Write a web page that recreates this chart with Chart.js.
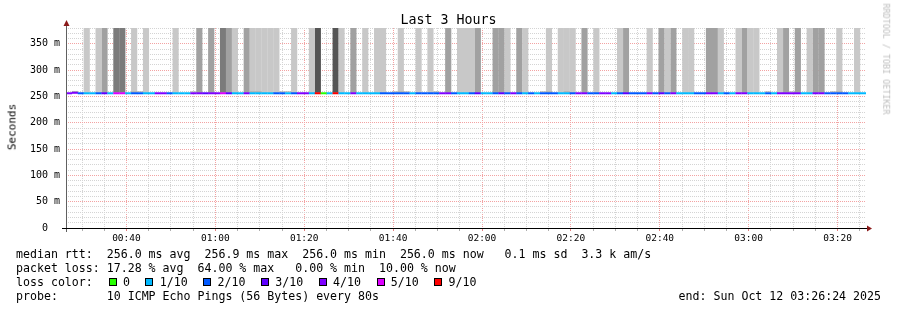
<!DOCTYPE html>
<html>
<head>
<meta charset="utf-8">
<script src="https://cdn.jsdelivr.net/npm/chart.js@4.4.1/dist/chart.umd.min.js"></script>
<style>
  html, body { margin: 0; padding: 0; background: #fff; }
  #wrap { position: relative; width: 897px; height: 310px; overflow: hidden;
          font-family: "DejaVu Sans Mono", monospace; color: #000; }
  #c { position: absolute; left: 0; top: 0; }
  .t { position: absolute; white-space: pre; line-height: 1; }
  .leg { font-size: 11.6px; left: 16px; }
  .box { position: absolute; width: 6px; height: 6px; border: 1px solid #000; }
</style>
</head>
<body>
<div id="wrap">
  <canvas id="c" width="897" height="310"></canvas>
  <div class="t" style="left:0;width:897px;text-align:center;top:13.4px;font-size:13.3px">Last 3 Hours</div>
  <div class="t" style="left:12px;top:127px;font-size:11px;transform:translate(-50%,-50%) rotate(-90deg)">Seconds</div>
  <div class="t" style="left:886px;top:59px;font-size:8.4px;color:#bdbdbd;transform:translate(-50%,-50%) rotate(90deg)">RRDTOOL / TOBI OETIKER</div>

  <div class="t leg" style="top:248.5px">median rtt:  256.0 ms avg  256.9 ms max  256.0 ms min  256.0 ms now   0.1 ms sd  3.3 k am/s</div>
  <div class="t leg" style="top:262.6px">packet loss: 17.28 % avg  64.00 % max   0.00 % min  10.00 % now</div>
  <div class="t leg" style="top:276.7px">loss color:</div>
  <div class="t leg" style="top:290.8px">probe:       10 ICMP Echo Pings (56 Bytes) every 80s</div>
  <div class="t leg" style="top:290.8px;left:auto;right:16px">end: Sun Oct 12 03:26:24 2025</div>
  <div id="lossLegend"></div>
</div>

<script>
// time range of the graph (3 hours, one step every 80 s)
const startTime = '00:26:24';
const spanMinutes = 180;
const timeLabels = ['00:40', '01:00', '01:20', '01:40', '02:00', '02:20', '02:40', '03:00', '03:20'];

// y axis (ms)
const yMax = 380;
const yGridStep = 10;
const yLabelStep = 50;

// median rtt per step (ms)
const medianRtt = [
  256.0, 256.9, 256.0, 256.0, 256.0, 256.0, 256.0, 256.0, 256.0, 256.0,
  256.0, 256.0, 256.0, 256.0, 256.0, 256.0, 256.0, 256.0, 256.0, 256.0,
  256.0, 256.0, 256.0, 256.0, 256.0, 256.0, 256.0, 256.0, 256.0, 256.0,
  256.0, 256.0, 256.0, 256.0, 256.0, 256.0, 256.0, 256.0, 256.0, 256.0,
  256.0, 256.0, 256.0, 256.0, 256.0, 256.0, 256.0, 256.0, 256.0, 256.0,
  256.0, 256.0, 256.0, 256.0, 256.0, 256.0, 256.0, 256.0, 256.0, 256.0,
  256.0, 256.0, 256.0, 256.0, 256.0, 256.0, 256.0, 256.0, 256.0, 256.0,
  256.0, 256.0, 256.0, 256.0, 256.0, 256.0, 256.0, 256.0, 256.0, 256.0,
  256.0, 256.0, 256.0, 256.0, 256.0, 256.0, 256.0, 256.0, 256.0, 256.0,
  256.0, 256.0, 256.0, 256.0, 256.0, 256.0, 256.0, 256.0, 256.0, 256.0,
  256.0, 256.0, 256.0, 256.0, 256.0, 256.0, 256.0, 256.0, 256.0, 256.0,
  256.0, 256.0, 256.0, 256.0, 256.0, 256.0, 256.0, 256.0, 256.0, 256.0,
  256.0, 256.0, 256.0, 256.0, 256.0, 256.0, 256.0, 256.0, 256.0, 256.0,
  256.0, 256.0, 256.0, 256.0, 256.0
];

// lost pings out of 10 per step
const lossCount = [
  4, 4, 2, 1, 1, 2, 3, 1, 5, 5,
  1, 2, 2, 1, 1, 4, 4, 2, 1, 1,
  1, 4, 4, 3, 4, 4, 5, 3, 1, 1,
  4, 1, 1, 1, 1, 2, 2, 1, 2, 4,
  4, 1, 9, 0, 1, 9, 1, 1, 4, 1,
  1, 1, 1, 2, 2, 2, 2, 2, 1, 2,
  2, 2, 2, 4, 4, 2, 1, 1, 2, 3,
  1, 1, 2, 3, 2, 4, 2, 1, 2, 1,
  2, 2, 2, 1, 1, 2, 4, 4, 2, 2,
  4, 4, 1, 2, 3, 2, 2, 2, 4, 2,
  3, 2, 4, 1, 1, 1, 2, 2, 4, 4,
  1, 2, 1, 4, 4, 1, 1, 1, 2, 1,
  4, 4, 4, 4, 1, 1, 4, 4, 2, 2,
  2, 2, 1, 1, 1
];

// smoke above the median: 0 none, 1 light ... 4 darkest
const smokeShade = [
  0, 0, 0, 1, 0, 1, 2, 0, 3, 3,
  0, 1, 0, 1, 0, 0, 0, 0, 1, 0,
  0, 0, 2, 0, 2, 0, 3, 2, 1, 0,
  2, 1, 1, 1, 1, 1, 0, 0, 1, 0,
  0, 1, 4, 0, 0, 4, 1, 0, 2, 0,
  1, 0, 1, 1, 0, 0, 1, 0, 0, 1,
  0, 1, 0, 0, 2, 0, 1, 1, 1, 2,
  0, 0, 2, 2, 1, 0, 2, 1, 0, 0,
  0, 1, 0, 1, 1, 1, 0, 2, 0, 1,
  0, 0, 0, 1, 2, 0, 0, 0, 1, 0,
  2, 1, 2, 0, 1, 1, 0, 0, 2, 2,
  1, 0, 0, 1, 2, 1, 1, 0, 0, 0,
  1, 2, 0, 2, 0, 1, 2, 2, 0, 0,
  1, 0, 0, 1, 0
];
const smokeBase = 257;

// thin smoke just above the median line (ms above the line)
const lowSmoke = [
  0, 1.6, 0, 0, 0, 0, 0, 0, 0, 0,
  0, 1.6, 1.6, 0, 0, 0, 0, 0, 0, 0,
  0, 1.6, 0, 0, 0, 0, 0, 0, 0, 0,
  0, 1.6, 1.6, 0, 0, 0, 1.6, 1.6, 0, 0,
  0, 0, 0, 0, 0, 0, 0, 0, 0, 0,
  0, 0, 0, 0, 0, 1.6, 1.6, 1.6, 0, 0,
  0, 0, 1.6, 0, 0, 0, 0, 0, 0, 0,
  0, 0, 1.6, 0, 0, 0, 0, 0, 0, 0,
  1.6, 1.6, 0, 0, 1.6, 0, 0, 0, 0, 0,
  0, 0, 0, 0, 0, 0, 0, 0, 0, 0,
  0, 0, 0, 0, 0, 0, 0, 0, 0, 0,
  0, 0, 0, 0, 0, 0, 0, 0, 1.6, 0,
  0, 0, 1.6, 0, 0, 0, 0, 0, 0, 1.6,
  1.6, 0, 0, 0, 0
];

// loss colour legend
const lossLegendLabels = ['0', '1/10', '2/10', '3/10', '4/10', '5/10', '9/10'];
const lossLegendCounts = [0, 1, 2, 3, 4, 5, 9];
const lossColors = { 0: '#26ff00', 1: '#00b8ff', 2: '#0059ff', 3: '#5e00ff', 4: '#7e00ff', 5: '#dd00ff', 9: '#ff0000' };
const shadeColors = { 1: '#c8c8c8', 2: '#a1a1a1', 3: '#7b7b7b', 4: '#555555' };

const minorGrid = '#d4d4d4';
const majorGrid = '#f3a3a3';

function toMinutes(s) {
  const p = s.split(':').map(Number);
  return p[0] * 60 + p[1] + (p[2] || 0) / 60;
}
const startMin = toMinutes(startTime);
const labelOffsets = timeLabels.map(l => toMinutes(l) - startMin);

// 5 minute grid marks along the time axis
const timeMarks = [];
for (let m = Math.ceil(startMin / 5) * 5; m <= startMin + spanMinutes; m += 5) {
  timeMarks.push(m - startMin);
}
const isMajorTime = v => labelOffsets.some(o => Math.abs(o - v) < 0.01);

const steps = medianRtt.map((_, i) => i);

// loss legend boxes
(function buildLegend() {
  const host = document.getElementById('lossLegend');
  let x = 108.7;
  lossLegendLabels.forEach((label, i) => {
    const box = document.createElement('div');
    box.className = 'box';
    box.style.left = x + 'px';
    box.style.top = '277.5px';
    box.style.background = lossColors[lossLegendCounts[i]];
    host.appendChild(box);
    const txt = document.createElement('div');
    txt.className = 't';
    txt.style.fontSize = '11.6px';
    txt.style.left = (x + 14.3) + 'px';
    txt.style.top = '276.7px';
    txt.textContent = label;
    host.appendChild(txt);
    x += 14.3 + label.length * 7.02 + 15.4;
  });
})();

const barCommon = { borderWidth: 0, grouped: false, barPercentage: 1.04, categoryPercentage: 1 };

const smokeSets = [1, 2, 3, 4].map(k => ({
  label: 'smoke ' + k,
  data: smokeShade.map(s => (s === k ? [smokeBase, yMax] : null)),
  backgroundColor: shadeColors[k],
  order: 2,
  ...barCommon
}));

const axisDecor = {
  id: 'axisDecor',
  afterDraw(chart) {
    const { ctx, chartArea: a } = chart;
    ctx.save();
    // y axis
    ctx.strokeStyle = '#606060';
    ctx.lineWidth = 1;
    ctx.beginPath();
    ctx.moveTo(a.left + 0.5, a.top - 4);
    ctx.lineTo(a.left + 0.5, a.bottom + 4);
    ctx.stroke();
    // x axis
    ctx.strokeStyle = '#000';
    ctx.beginPath();
    ctx.moveTo(a.left - 4, a.bottom + 0.5);
    ctx.lineTo(a.right + 2, a.bottom + 0.5);
    ctx.stroke();
    // arrow heads
    ctx.fillStyle = '#8b1a1a';
    ctx.beginPath();
    ctx.moveTo(a.left + 0.5, a.top - 8);
    ctx.lineTo(a.left - 2.5, a.top - 2);
    ctx.lineTo(a.left + 3.5, a.top - 2);
    ctx.closePath();
    ctx.fill();
    ctx.beginPath();
    ctx.moveTo(a.right + 6, a.bottom + 0.5);
    ctx.lineTo(a.right + 1, a.bottom - 2.5);
    ctx.lineTo(a.right + 1, a.bottom + 3.5);
    ctx.closePath();
    ctx.fill();
    ctx.restore();
  }
};

new Chart(document.getElementById('c'), {
  type: 'bar',
  data: {
    labels: steps,
    datasets: [
      {
        label: 'median',
        data: medianRtt.map(v => [v - 1.9, v + 1.9]),
        backgroundColor: lossCount.map(n => lossColors[n]),
        order: 0,
        ...barCommon
      },
      {
        label: 'low smoke',
        data: lowSmoke.map((h, i) => (h > 0 ? [medianRtt[i] + 1.9, medianRtt[i] + 1.9 + h] : null)),
        backgroundColor: '#a8a8a8',
        order: 1,
        ...barCommon
      },
      ...smokeSets
    ]
  },
  options: {
    responsive: false,
    animation: false,
    layout: { padding: { left: 0, top: 28, right: 31, bottom: 62 } },
    plugins: { legend: { display: false }, tooltip: { enabled: false } },
    scales: {
      x: { type: 'category', display: false, offset: true },
      xt: {
        type: 'linear',
        position: 'bottom',
        min: 0,
        max: spanMinutes,
        offset: false,
        z: 1,
        afterFit(s) { s.height = 20; },
        afterBuildTicks(s) { s.ticks = timeMarks.map(v => ({ value: v })); },
        ticks: {
          autoSkip: false,
          maxRotation: 0,
          padding: 2,
          color: '#000',
          font: { family: 'DejaVu Sans Mono', size: 9.5 },
          callback(v) {
            const i = labelOffsets.findIndex(o => Math.abs(o - v) < 0.01);
            return i >= 0 ? timeLabels[i] : '';
          }
        },
        grid: {
          offset: false,
          color: c => (c.tick && isMajorTime(c.tick.value) ? majorGrid : minorGrid),
          tickColor: c => (c.tick && isMajorTime(c.tick.value) ? '#e08080' : '#b0b0b0'),
          drawTicks: true,
          tickLength: 3,
          lineWidth: 1
        },
        border: { display: false, dash: [1, 1] }
      },
      y: {
        min: 0,
        max: yMax,
        z: 1,
        afterFit(s) { s.width = 66; },
        afterBuildTicks(s) {
          const t = [];
          for (let v = 0; v <= yMax; v += yGridStep) t.push({ value: v });
          s.ticks = t;
        },
        ticks: {
          autoSkip: false,
          padding: 6,
          color: '#000',
          font: { family: 'DejaVu Sans Mono', size: 10 },
          callback(v) {
            if (v % yLabelStep !== 0) return '';
            return v === 0 ? '0  ' : v + ' m';
          }
        },
        grid: {
          color: c => (c.tick && c.tick.value % yLabelStep === 0 && c.tick.value > 0 ? majorGrid : minorGrid),
          drawTicks: false,
          lineWidth: 1
        },
        border: { display: false, dash: [1, 1] }
      }
    }
  },
  plugins: [axisDecor]
});
</script>
</body>
</html>
